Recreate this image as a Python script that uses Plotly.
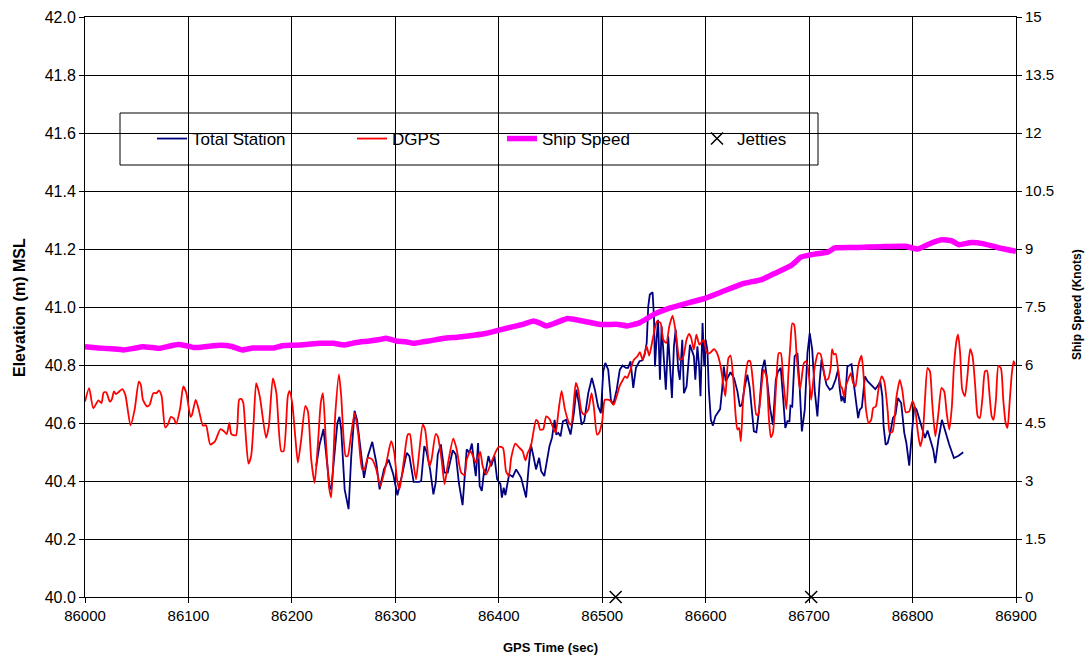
import plotly.graph_objects as go

# ---------------- data ----------------
dgps_time = [86000, 86004, 86008, 86013, 86016, 86018, 86020.5, 86024, 86026, 86028, 86030, 86032, 86036, 86039, 86044, 86048,
             86052, 86054, 86056, 86060, 86062.5, 86066, 86069, 86071.5, 86074, 86077.5, 86080, 86083, 86086, 86088, 86092, 86095,
             86098, 86102, 86103.5, 86107, 86110, 86114, 86117, 86121, 86125, 86126.5, 86131, 86134.5, 86137, 86139.5, 86141.5,
             86146, 86149, 86151, 86153, 86155, 86158, 86160.6, 86163, 86165.5, 86169, 86175, 86177.7, 86181.6, 86185, 86189.7,
             86192, 86196, 86197.7, 86200.3, 86203.5, 86205.8, 86209, 86213, 86215.5, 86218.7, 86222, 86225, 86228, 86230, 86232.6,
             86236, 86238, 86242, 86245.5, 86247.7, 86252, 86254, 86257, 86260.6, 86264, 86268, 86270, 86273.5, 86277.7, 86281.6,
             86285.5, 86291, 86296, 86299, 86301.6, 86304, 86308, 86312, 86314, 86316.6, 86320, 86323, 86326.5, 86328.8, 86333,
             86335, 86339, 86341, 86344.7, 86347.6, 86351, 86356, 86359, 86363.6, 86367, 86369, 86372.6, 86375.5, 86378, 86382,
             86384.5, 86387.8, 86392.6, 86397.4, 86400, 86404, 86407, 86409.7, 86412, 86416, 86420, 86423, 86425.8, 86428, 86431,
             86436, 86437.7, 86440, 86443, 86445.8, 86449, 86452.6, 86455, 86457.5, 86460.7, 86464, 86468, 86470, 86474.5, 86476.8,
             86480, 86482.6, 86486.5, 86489.7, 86492, 86495, 86497, 86500, 86502.6, 86507.4, 86511, 86514, 86517, 86519.7, 86522,
             86524, 86526.8, 86530.6, 86534, 86536.4, 86539, 86541, 86543, 86545.4, 86548.7, 86551, 86553, 86556.4, 86559, 86562,
             86564.8, 86568, 86571, 86575, 86578, 86581.5, 86584, 86586, 86588.6, 86591, 86594, 86598, 86600.6, 86602, 86605,
             86608, 86611, 86614.5, 86616.8, 86619, 86622, 86624, 86626.5, 86628.8, 86630.7, 86632.3, 86634, 86636, 86638.4, 86641,
             86643, 86645.8, 86649, 86650.7, 86654, 86656, 86658.7, 86661, 86663, 86665, 86668.4, 86670.6, 86672.6, 86675, 86678,
             86680, 86682, 86683.7, 86685.5, 86687.8, 86691, 86692.6, 86695, 86697.4, 86699.7, 86702, 86705.5, 86708.7, 86711,
             86713.5, 86716, 86718.4, 86721, 86722.2, 86724, 86725.7, 86728, 86730.6, 86731.8, 86733.8, 86735.4, 86737.7, 86740.3,
             86742.5, 86744.8, 86747.4, 86750.6, 86752, 86755, 86757.5, 86760, 86762, 86764.5, 86767, 86770, 86772.6, 86776, 86778,
             86780.7, 86784.5, 86787.7, 86790, 86793.5, 86796.8, 86800, 86802.6, 86804.8, 86807.4, 86809.7, 86812, 86814.5, 86816.8,
             86819, 86822, 86825, 86828, 86830.6, 86833, 86835.5, 86838, 86840, 86842.6, 86844, 86846, 86848, 86850.6, 86853,
             86855.7, 86858, 86860.6, 86863, 86865, 86867.7, 86870, 86872, 86874, 86876.5, 86878.3, 86880.6, 86883, 86885.4,
             86887.7, 86890, 86891.8, 86894, 86896, 86897.7, 86899]
dgps_elev = [40.674, 40.720, 40.651, 40.678, 40.669, 40.705, 40.706, 40.674, 40.682, 40.709, 40.700, 40.705, 40.717, 40.697, 40.592, 40.646,
             40.743, 40.731, 40.680, 40.657, 40.663, 40.703, 40.703, 40.712, 40.694, 40.585, 40.594, 40.621, 40.615, 40.597, 40.651, 40.726,
             40.703, 40.621, 40.629, 40.680, 40.646, 40.591, 40.592, 40.526, 40.534, 40.543, 40.579, 40.571, 40.562, 40.600, 40.562,
             40.558, 40.680, 40.683, 40.670, 40.577, 40.460, 40.486, 40.600, 40.737, 40.691, 40.549, 40.589, 40.754, 40.703, 40.503,
             40.503, 40.691, 40.711, 40.669, 40.543, 40.463, 40.543, 40.659, 40.640, 40.474, 40.394, 40.520, 40.671, 40.703, 40.554,
             40.377, 40.343, 40.634, 40.768, 40.691, 40.486, 40.486, 40.554, 40.634, 40.566, 40.440, 40.440, 40.480, 40.474, 40.440,
             40.383, 40.457, 40.537, 40.497, 40.406, 40.371, 40.463, 40.560, 40.562, 40.486, 40.406, 40.497, 40.594, 40.577, 40.451,
             40.474, 40.562, 40.554, 40.474, 40.389, 40.463, 40.546, 40.514, 40.429, 40.420, 40.474, 40.503, 40.482, 40.463, 40.500,
             40.451, 40.423, 40.463, 40.503, 40.518, 40.514, 40.434, 40.417, 40.480, 40.529, 40.514, 40.503, 40.471, 40.497, 40.520,
             40.611, 40.606, 40.577, 40.579, 40.623, 40.614, 40.583, 40.566, 40.634, 40.711, 40.646, 40.600, 40.594, 40.738, 40.715,
             40.640, 40.629, 40.646, 40.703, 40.652, 40.560, 40.566, 40.606, 40.680, 40.678, 40.663, 40.692, 40.729, 40.747, 40.761,
             40.755, 40.778, 40.818, 40.830, 40.844, 40.818, 40.839, 40.864, 40.832, 40.887, 40.928, 40.951, 40.945, 40.887, 40.876,
             40.933, 40.970, 40.916, 40.818, 40.824, 40.887, 40.907, 40.893, 40.853, 40.905, 40.870, 40.887, 40.847, 40.839, 40.844,
             40.855, 40.841, 40.795, 40.738, 40.692, 40.824, 40.832, 40.761, 40.634, 40.577, 40.583, 40.537, 40.669, 40.761, 40.813,
             40.813, 40.738, 40.629, 40.629, 40.726, 40.784, 40.761, 40.623, 40.551, 40.566, 40.749, 40.841, 40.841, 40.749, 40.648,
             40.772, 40.876, 40.943, 40.939, 40.841, 40.715, 40.749, 40.807, 40.813, 40.767, 40.680, 40.795, 40.841, 40.838,
             40.795, 40.749, 40.752, 40.795, 40.855, 40.836, 40.839, 40.784, 40.726, 40.721, 40.692, 40.726, 40.749, 40.772,
             40.738, 40.726, 40.795, 40.832, 40.795, 40.646, 40.600, 40.611, 40.652, 40.657, 40.715, 40.761, 40.744, 40.640, 40.566,
             40.571, 40.692, 40.749, 40.715, 40.637, 40.640, 40.675, 40.646, 40.577, 40.520, 40.554, 40.680, 40.790, 40.778,
             40.669, 40.554, 40.634, 40.721, 40.709, 40.634, 40.577, 40.657, 40.795, 40.887, 40.905, 40.841, 40.715, 40.692, 40.761,
             40.855, 40.830, 40.726, 40.623, 40.617, 40.692, 40.778, 40.780, 40.715, 40.623, 40.611, 40.680, 40.797, 40.789,
             40.680, 40.600, 40.583, 40.680, 40.772, 40.813, 40.801]

ts_time = [86223.5, 86226.8, 86230.6, 86233, 86236.5, 86238, 86241, 86244, 86246, 86247.7, 86251, 86254.8, 86257.4, 86260.6, 86263,
           86266, 86269.7, 86273.5, 86277.7, 86281.6, 86284.8, 86289, 86293.5, 86298, 86302, 86307, 86311, 86313.6, 86317.7, 86323,
           86325, 86328, 86330, 86333.6, 86336.8, 86339, 86341, 86344, 86347.5, 86350.7, 86355.5, 86358.5, 86361.4, 86365, 86369,
           86371.6, 86374, 86376.5, 86377.8, 86380, 86381.5, 86383.6, 86386, 86386.8, 86390, 86392.6, 86395.8, 86398.4, 86401.6,
           86403, 86404.8, 86406.4, 86410, 86413.5, 86416.8, 86421.6, 86426.4, 86428.7, 86431, 86433.8, 86436, 86439, 86441, 86444,
           86446.8, 86449, 86451.5, 86454, 86455.5, 86457.5, 86459.7, 86462, 86465, 86467, 86469.4, 86472.6, 86475, 86477.4, 86480,
           86482.6, 86486.5, 86490, 86492.9, 86496, 86498.7, 86501, 86503, 86505.8, 86508.4, 86510.6, 86514, 86517, 86519.7, 86523,
           86525, 86527.4, 86529, 86530, 86532.6, 86536, 86539, 86541, 86543, 86544.5, 86546, 86548.7, 86550, 86551, 86552.5, 86554,
           86555.8, 86557.4, 86559, 86561.5, 86563.8, 86565.4, 86567.4, 86569.3, 86571, 86573.5, 86575, 86577.4, 86579, 86581.5,
           86584.8, 86586.4, 86588.6, 86590, 86592, 86593.7, 86595, 86597, 86598.6, 86600, 86601.7, 86603, 86605, 86607, 86609.4,
           86612, 86614, 86615.9, 86617.5, 86619.4, 86621.6, 86624, 86627.4, 86630.7, 86633, 86635, 86637.8, 86640.3, 86642.6, 86645,
           86646.6, 86649, 86651.7, 86654.6, 86657, 86659.4, 86662, 86665, 86667.8, 86670, 86672.6, 86675, 86677, 86679, 86681, 86682,
           86683.7, 86686, 86688.7, 86691, 86693, 86695.8, 86698.4, 86700.6, 86703, 86705.5, 86708, 86710.3, 86712, 86714, 86716.8,
           86720, 86722.5, 86725.5, 86728, 86729.7, 86731.3, 86732.3, 86734.5, 86737, 86741, 86743.5, 86745.8, 86747.4, 86749, 86751,
           86753, 86754, 86756.5, 86760, 86764, 86766.6, 86768.8, 86770.8, 86772, 86774, 86776, 86778.7, 86781, 86783.5, 86785.8,
           86789, 86792, 86794, 86796.8, 86799.4, 86801.6, 86803.9, 86806.4, 86809.7, 86812, 86814.5, 86817.7, 86820, 86822, 86825,
           86828.4, 86831.6, 86835.5, 86840, 86844.5, 86849]
ts_elev = [40.451, 40.526, 40.579, 40.497, 40.377, 40.371, 40.480, 40.600, 40.621, 40.577, 40.371, 40.303, 40.486, 40.642, 40.611,
           40.520, 40.411, 40.486, 40.535, 40.463, 40.371, 40.440, 40.474, 40.423, 40.351, 40.429, 40.497, 40.486, 40.397, 40.397,
           40.400, 40.520, 40.503, 40.440, 40.354, 40.394, 40.491, 40.526, 40.429, 40.429, 40.506, 40.491, 40.394, 40.317, 40.509,
           40.497, 40.529, 40.451, 40.417, 40.531, 40.383, 40.366, 40.440, 40.420, 40.486, 40.451, 40.486, 40.406, 40.389,
           40.343, 40.377, 40.351, 40.423, 40.414, 40.440, 40.411, 40.343, 40.440, 40.526, 40.480, 40.440, 40.480, 40.434, 40.417,
           40.469, 40.520, 40.550, 40.611, 40.560, 40.566, 40.554, 40.606, 40.611, 40.589, 40.560, 40.634, 40.715, 40.669, 40.594,
           40.606, 40.703, 40.755, 40.715, 40.657, 40.634, 40.778, 40.807, 40.784, 40.680, 40.663, 40.715, 40.784, 40.798, 40.790,
           40.790, 40.813, 40.749, 40.721, 40.790, 40.813, 40.816, 40.836, 40.876, 41.002, 41.043, 41.051, 40.968, 40.795, 40.887, 40.956,
           40.749, 40.933, 40.853, 40.715, 40.899, 40.818, 40.686, 40.864, 40.922, 40.784, 40.749, 40.887, 40.703, 40.726,
           40.870, 40.853, 40.830, 40.749, 40.864, 40.795, 40.692, 40.945, 40.795, 40.887, 40.850, 40.720, 40.611, 40.591, 40.623,
           40.637, 40.648, 40.715, 40.795, 40.744, 40.761, 40.775, 40.755, 40.709, 40.657, 40.663, 40.726, 40.767, 40.721, 40.629,
           40.571, 40.568, 40.646, 40.784, 40.818, 40.749, 40.657, 40.594, 40.749, 40.778, 40.790, 40.680, 40.583, 40.606, 40.606, 40.660,
           40.657, 40.830, 40.841, 40.715, 40.571, 40.646, 40.841, 40.910, 40.853, 40.709, 40.623, 40.749, 40.818, 40.778, 40.732,
           40.715, 40.721, 40.749, 40.784, 40.715, 40.675, 40.692, 40.669, 40.795, 40.803, 40.726, 40.657, 40.617, 40.646, 40.654,
           40.726, 40.761, 40.744, 40.732, 40.717, 40.729, 40.744, 40.692, 40.589, 40.525, 40.531, 40.571, 40.617, 40.629, 40.686,
           40.669, 40.566, 40.531, 40.453, 40.566, 40.657, 40.646, 40.617, 40.579, 40.548, 40.574, 40.531, 40.508, 40.462, 40.543,
           40.611, 40.571, 40.525, 40.479, 40.487, 40.499]

speed_time = [86000, 86013, 86025, 86037, 86047, 86056, 86065, 86072, 86082, 86090, 86098, 86106, 86118, 86131, 86142, 86152,
              86162, 86172, 86182, 86191, 86202, 86214, 86227, 86240, 86251, 86262, 86275, 86285, 86291, 86301, 86310, 86318,
              86327, 86334.5, 86347, 86360, 86376, 86388, 86400, 86412, 86423, 86433.5, 86440, 86446, 86456, 86466.5, 86481,
              86498, 86515.6, 86524, 86536, 86550, 86565, 86585, 86600, 86620, 86637, 86654, 86666, 86683, 86692, 86706, 86718,
              86725, 86747, 86770, 86793, 86805, 86816, 86828, 86838, 86845, 86857, 86868, 86882, 86900]
speed_knots = [6.47, 6.44, 6.42, 6.39, 6.43, 6.47, 6.45, 6.43, 6.49, 6.53, 6.50, 6.45, 6.48, 6.51, 6.48, 6.39,
               6.44, 6.44, 6.44, 6.50, 6.51, 6.53, 6.56, 6.56, 6.52, 6.58, 6.62, 6.66, 6.69, 6.62, 6.60, 6.56,
               6.60, 6.63, 6.69, 6.72, 6.77, 6.82, 6.90, 6.98, 7.05, 7.14, 7.08, 7.01, 7.10, 7.20, 7.14,
               7.05, 7.05, 7.01, 7.09, 7.31, 7.47, 7.62, 7.73, 7.94, 8.11, 8.21, 8.36, 8.58, 8.79, 8.87, 8.92,
               9.03, 9.04, 9.06, 9.07, 9.00, 9.13, 9.24, 9.21, 9.11, 9.17, 9.14, 9.04, 8.94]

jetty_time = [86513, 86702]
jetty_elev = [40.0, 40.0]

x_ticks = [86000, 86100, 86200, 86300, 86400, 86500, 86600, 86700, 86800, 86900]

# ---------------- figure ----------------
FONT = "Liberation Sans, Arial, sans-serif"
fig = go.Figure()

fig.add_trace(go.Scatter(x=ts_time, y=ts_elev, mode="lines", name="Total Station",
                         line=dict(color="#000080", width=1.8), legend="legend", showlegend=True))
fig.add_trace(go.Scatter(x=dgps_time, y=dgps_elev, mode="lines", name="DGPS",
                         line=dict(color="#FF0000", width=1.8, shape="spline", smoothing=0.6),
                         legend="legend2"))
fig.add_trace(go.Scatter(x=speed_time, y=speed_knots, mode="lines", name="Ship Speed",
                         line=dict(color="#FF00FF", width=5.5, shape="spline", smoothing=0.4),
                         yaxis="y2", legend="legend3"))
fig.add_trace(go.Scatter(x=jetty_time, y=jetty_elev, mode="markers", name="Jetties",
                         marker=dict(symbol="x-thin", size=12, color="black",
                                     line=dict(color="black", width=1.5)),
                         cliponaxis=False, legend="legend4"))

L, R, T, B = 85, 71, 17, 60
W, H = 1087, 657
pw, ph = W - L - R, H - T - B

def px2x(px):
    return (px - L) / pw

def py2y(py):
    return (H - B - py) / ph

leg_common = dict(orientation="h", bgcolor="rgba(0,0,0,0)", borderwidth=0,
                  font=dict(family=FONT, size=17, color="black"),
                  yanchor="middle", xanchor="left", y=py2y(139), itemwidth=30)

fig.update_layout(
    width=W, height=H,
    margin=dict(l=L, r=R, t=T, b=B, autoexpand=False),
    paper_bgcolor="white", plot_bgcolor="white",
    font=dict(family=FONT, color="black"),
    showlegend=True,
    legend=dict(**leg_common, x=px2x(152)),
    legend2=dict(**leg_common, x=px2x(352)),
    legend3=dict(**leg_common, x=px2x(502)),
    legend4=dict(**leg_common, x=px2x(697)),
    xaxis=dict(range=[86000, 86900], tickvals=x_ticks, tickformat="d", automargin=False,
               showgrid=True, gridcolor="black", gridwidth=1,
               showline=True, linecolor="black", linewidth=1, mirror=True,
               ticks="outside", ticklen=5, tickcolor="black",
               tickfont=dict(family=FONT, size=15), zeroline=False),
    yaxis=dict(range=[40, 42], dtick=0.2, tick0=40, tickformat=".1f", automargin=False,
               showgrid=True, gridcolor="black", gridwidth=1,
               showline=True, linecolor="black", linewidth=1, mirror=True,
               ticks="outside", ticklen=5, tickcolor="black",
               tickfont=dict(family=FONT, size=16), zeroline=False),
    yaxis2=dict(range=[0, 15], dtick=1.5, tick0=0, overlaying="y", side="right", automargin=False,
                showgrid=False, showline=True, linecolor="black", linewidth=1,
                ticks="outside", ticklen=5, tickcolor="black",
                tickfont=dict(family=FONT, size=15), zeroline=False),
    shapes=[dict(type="rect", xref="paper", yref="paper",
                 x0=px2x(120), x1=px2x(818), y0=py2y(165), y1=py2y(113),
                 line=dict(color="black", width=1), fillcolor="white", layer="between")],
    annotations=[
        dict(text="<b>GPS Time (sec)</b>", xref="paper", yref="paper", x=px2x(550), y=py2y(647),
             xanchor="center", yanchor="middle", showarrow=False, font=dict(family=FONT, size=13)),
        dict(text="<b>Elevation (m) MSL</b>", xref="paper", yref="paper", x=px2x(20), y=py2y(308),
             xanchor="center", yanchor="middle", textangle=-90, showarrow=False,
             font=dict(family=FONT, size=16)),
        dict(text="<b>Ship Speed (Knots)</b>", xref="paper", yref="paper", x=px2x(1077), y=py2y(305),
             xanchor="center", yanchor="middle", textangle=-90, showarrow=False,
             font=dict(family=FONT, size=12)),
    ],
)

fig.write_html("out.html")
